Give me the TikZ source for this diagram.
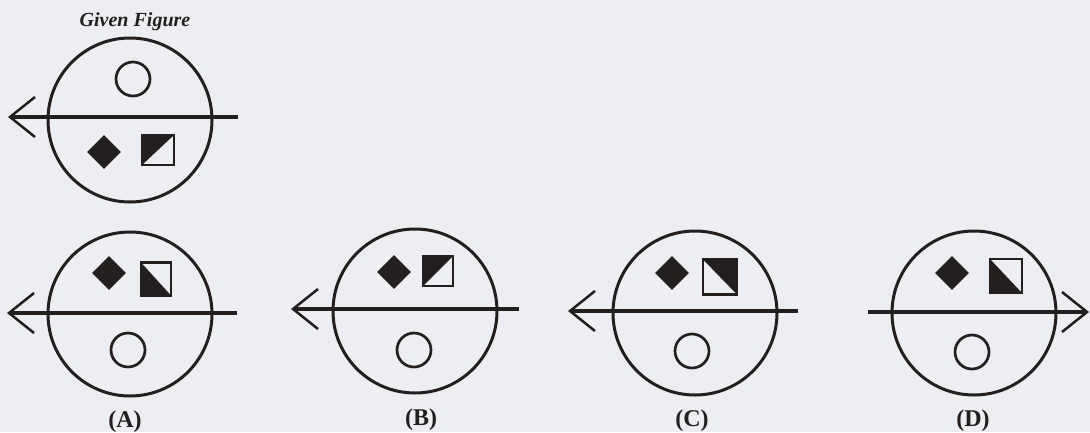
\documentclass[tikz,border=0pt]{standalone}
\usepackage{fontspec}
\setmainfont{Liberation Serif}
\usetikzlibrary{shapes.geometric,arrows.meta}
\definecolor{bg}{RGB}{236,238,241}
\definecolor{inkc}{RGB}{36,31,31}
\tikzset{
  bigc/.style={circle, draw=inkc, line width=3pt, minimum size=164pt, inner sep=0pt},
  smallc/.style={circle, draw=inkc, line width=2.7pt, minimum size=34pt, inner sep=0pt},
  gem/.style={diamond, fill=inkc, minimum width=34pt, minimum height=34pt, inner sep=0pt},
  sqbase/.style={rectangle, draw=inkc, line width=2.7pt, inner sep=0pt},
  sqNW/.style={sqbase, path picture={\fill[inkc] (path picture bounding box.north west) -- (path picture bounding box.north east) -- (path picture bounding box.south west) -- cycle;}},
  sqSW/.style={sqbase, path picture={\fill[inkc] (path picture bounding box.north west) -- (path picture bounding box.south west) -- (path picture bounding box.south east) -- cycle;}},
  sqNE/.style={sqbase, path picture={\fill[inkc] (path picture bounding box.north west) -- (path picture bounding box.north east) -- (path picture bounding box.south east) -- cycle;}},
  axis/.style={draw=inkc, line width=3.6pt, >={Straight Barb[length=25pt, width=40pt, line width=2.5pt]}},
  lbl/.style={font=\fontsize{24}{26}\selectfont\bfseries, text=inkc},
  ttl/.style={font=\fontsize{20}{22}\selectfont\bfseries\itshape, text=inkc}
}
\begin{document}
\begin{tikzpicture}[x=1pt,y=-1pt]
\path[fill=bg] (0,0) rectangle (1090,432);
\useasboundingbox (0,0) rectangle (1090,432);

% Given figure
\node[ttl] (gt) at (135,22) {Given Figure};
\node[bigc] (gc) at (130,120) {};
\node[smallc] (gs) at (133,79) {};
\node[gem] (gd) at (104,152) {};
\node[sqNW, minimum width=32pt, minimum height=30pt] (gq) at (158,150) {};
\coordinate (g1) at (8,117);
\coordinate (g2) at (238,117);
\draw[axis, <-] (g1) -- (g2);

% A
\node[bigc] (ac) at (130,314) {};
\node[gem] (ad) at (109,273) {};
\node[sqSW, minimum width=30pt, minimum height=33pt] (aq) at (156,279) {};
\node[smallc] (as) at (128,350) {};
\coordinate (a1) at (7,313);
\coordinate (a2) at (237,313);
\draw[axis, <-] (a1) -- (a2);
\node[lbl] (al) at (125,422) {(A)};

% B
\node[bigc] (bc) at (415,311) {};
\node[gem] (bd) at (394,272) {};
\node[sqNW, minimum width=30pt, minimum height=30pt] (bq) at (438,271) {};
\node[smallc] (bs) at (414,350) {};
\coordinate (b1) at (291,309);
\coordinate (b2) at (519,309);
\draw[axis, <-] (b1) -- (b2);
\node[lbl] (bl) at (421,420) {(B)};

% C
\node[bigc] (cc) at (695,313) {};
\node[gem] (cd) at (672,273) {};
\node[sqNE, minimum width=34pt, minimum height=35pt] (cq) at (720,277) {};
\node[smallc] (cs) at (692,351) {};
\coordinate (c1) at (568,311);
\coordinate (c2) at (798,311);
\draw[axis, <-] (c1) -- (c2);
\node[lbl] (cl) at (692,421) {(C)};

% D
\node[bigc] (dc) at (974,313) {};
\node[gem] (dd) at (952,273) {};
\node[sqSW, minimum width=32pt, minimum height=34pt] (dq) at (1006,276) {};
\node[smallc] (ds) at (972,352) {};
\coordinate (d1) at (868,312);
\coordinate (d2) at (1089,312);
\draw[axis, ->] (d1) -- (d2);
\node[lbl] (dl) at (973,421) {(D)};
\end{tikzpicture}
\end{document}
